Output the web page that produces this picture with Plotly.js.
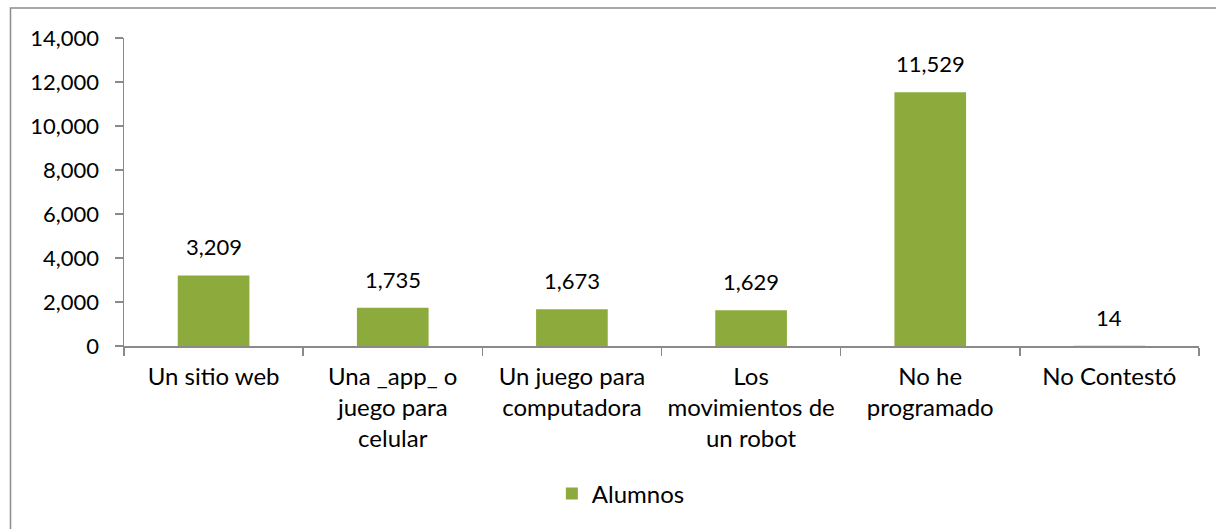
<!DOCTYPE html>
<html>
<head>
<meta charset="utf-8">
<script src="https://cdn.plot.ly/plotly-3.0.1.min.js"></script>
<style>html,body{margin:0;padding:0;background:#fff;}#chart{width:1216px;height:529px;}</style>
</head>
<body>
<div id="chart"></div>
<script>
const categories = [
  "Un sitio web",
  "Una _app_ o<br>juego para<br>celular",
  "Un juego para<br>computadora",
  "Los<br>movimientos de<br>un robot",
  "No he<br>programado",
  "No Contestó"
];
const alumnos = [3209, 1735, 1673, 1629, 11529, 14];
const seriesName = "Alumnos";
const yTicks = [0, 2000, 4000, 6000, 8000, 10000, 12000, 14000];

const FONT = "Lato, 'Open Sans', sans-serif";
const GREEN = "#8cab3c";
const AXIS = "#8a8a8a";

const fmt = v => v.toLocaleString("en-US");

const trace = {
  type: "bar",
  x: categories,
  y: alumnos,
  name: seriesName,
  width: 0.4,
  marker: {color: GREEN},
  hoverinfo: "x+y"
};

const annotations = categories.map((c, i) => ({
  x: c, y: alumnos[i], xref: "x", yref: "y",
  text: fmt(alumnos[i]), showarrow: false,
  yanchor: "bottom", yshift: 13,
  font: {family: FONT, size: 22, color: "#000"}
}));

const layout = {
  width: 1216, height: 529,
  margin: {l: 124, r: 17, t: 38, b: 183},
  paper_bgcolor: "#fff", plot_bgcolor: "#fff",
  font: {family: FONT, size: 22, color: "#000"},
  bargap: 0.6,
  xaxis: {
    type: "category",
    showline: true, linecolor: AXIS, linewidth: 2,
    ticks: "outside", ticklen: 8, tickcolor: AXIS, tickwidth: 1.5,
    tickson: "boundaries",
    ticklabelstandoff: 8,
    showgrid: false, zeroline: false,
    tickfont: {family: FONT, size: 24, color: "#000"}
  },
  yaxis: {
    range: [0, 14000],
    tickvals: yTicks,
    ticktext: yTicks.map(fmt),
    showline: true, linecolor: AXIS, linewidth: 1.5,
    ticks: "outside", ticklen: 8, tickcolor: AXIS, tickwidth: 1.5,
    ticklabelstandoff: 11,
    showgrid: false, zeroline: false,
    tickfont: {family: FONT, size: 22, color: "#000"}
  },
  showlegend: true,
  legend: {
    orientation: "h",
    x: 0.398, xanchor: "left",
    y: -0.48, yanchor: "middle",
    font: {family: FONT, size: 24, color: "#000"},
    itemwidth: 30
  },
  annotations: annotations,
  shapes: [{
    type: "rect", xref: "paper", yref: "paper",
    x0: (10.5 - 124) / 1075, x1: 1.2,
    y0: -1.2, y1: (346 - 8) / 308,
    line: {color: "#8c8c8c", width: 1.5}, fillcolor: "rgba(0,0,0,0)",
    layer: "below"
  }]
};

Plotly.newPlot("chart", [trace], layout, {displayModeBar: false, staticPlot: true});
</script>
</body>
</html>
